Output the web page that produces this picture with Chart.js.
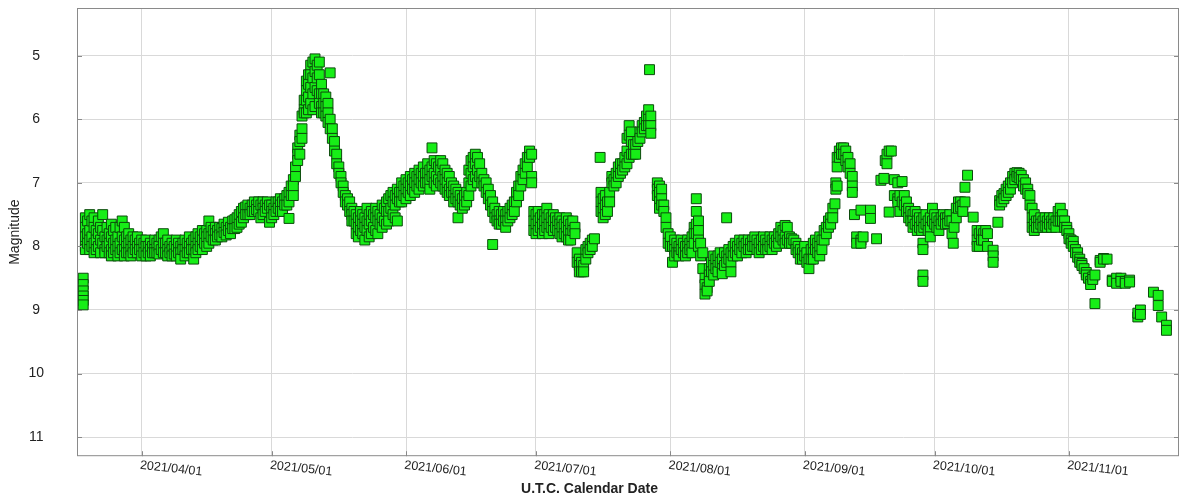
<!DOCTYPE html>
<html>
<head>
<meta charset="utf-8">
<script src="https://cdn.jsdelivr.net/npm/chart.js@4.4.1/dist/chart.umd.min.js"></script>
<style>
  html, body { margin: 0; padding: 0; background: #fff; }
  canvas { display: block; }
</style>
</head>
<body>
<canvas id="lightCurve" width="1200" height="498"></canvas>
<script>
// observation nights, as days since 2021-01-01 00:00 UTC
const nightDays = [
  76.5, 77, 77.5, 78, 78.5, 79, 79.5, 80,
  80.5, 81, 81.5, 82, 82.5, 83, 83.5, 84,
  84.5, 85, 85.5, 86, 86.5, 87, 87.5, 88,
  88.5, 89, 89.5, 90, 90.5, 91, 91.5, 92,
  92.5, 93, 93.5, 94, 94.5, 95, 95.5, 96,
  96.5, 97, 97.5, 98, 98.5, 99, 99.5, 100,
  100.5, 101, 101.5, 102, 102.5, 103, 103.5, 104,
  104.5, 105, 105.5, 106, 106.5, 107, 107.5, 108,
  108.5, 109, 109.5, 110, 110.5, 111, 111.5, 112,
  112.5, 113, 113.5, 114, 114.5, 115, 115.5, 116,
  116.5, 117, 117.5, 118, 118.5, 119, 119.5, 120,
  120.5, 121, 121.5, 122, 122.5, 123, 123.5, 124,
  124.5, 125, 125.5, 126, 126.5, 127, 127.5, 128,
  128.5, 129, 129.5, 130, 130.5, 131, 131.5, 132,
  132.5, 133, 133.5, 134, 134.5, 135, 135.5, 136,
  136.5, 137, 137.5, 138, 138.5, 139, 139.5, 140,
  140.5, 141, 141.5, 142, 142.5, 143, 143.5, 144,
  144.5, 145, 145.5, 146, 146.5, 147, 147.5, 148,
  148.5, 149, 149.5, 150, 150.5, 151, 151.5, 152,
  152.5, 153, 153.5, 154, 154.5, 155, 155.5, 156,
  156.5, 157, 157.5, 158, 158.5, 159, 159.5, 160,
  160.5, 161, 161.5, 162, 162.5, 163, 163.5, 164,
  164.5, 165, 165.5, 166, 166.5, 167, 167.5, 168,
  168.5, 169, 169.5, 170, 170.5, 171, 171.5, 172,
  172.5, 173, 173.5, 174, 174.5, 175, 175.5, 176,
  176.5, 177, 177.5, 178, 178.5, 179, 179.5, 180,
  180.5, 181, 181.5, 182, 182.5, 183, 183.5, 184,
  184.5, 185, 185.5, 186, 186.5, 187, 187.5, 188,
  188.5, 189, 189.5, 190, 190.5, 191, 191.5, 192,
  192.5, 193, 193.5, 194, 194.5, 195.8, 196, 196.5,
  197, 197.5, 198, 198.5, 199, 199.5, 200, 200.5,
  201, 201.5, 202, 202.5, 203, 203.5, 204, 204.5,
  205, 205.5, 206, 206.5, 207, 207.2, 207.5, 209,
  209.5, 210, 210.5, 211, 211.5, 212, 212.5, 213,
  213.5, 214, 214.5, 215, 215.5, 216, 216.5, 217,
  217.5, 218, 218.5, 219, 219.5, 220, 220.5, 221,
  221.5, 222, 222.5, 223, 223.5, 224, 224.5, 225,
  225.5, 226, 226.5, 227, 227.5, 228, 228.5, 229,
  229.5, 230, 230.5, 231, 231.5, 232, 232.5, 233,
  233.5, 234, 234.5, 235, 235.5, 236, 236.5, 237,
  237.5, 238, 238.5, 239, 239.5, 240, 240.5, 241,
  241.5, 242, 242.5, 243, 243.5, 244, 244.5, 245,
  245.5, 246, 246.5, 247, 247.5, 248, 248.5, 249,
  249.5, 250, 250.2, 250.5, 251, 251.5, 252, 252.5,
  253, 253.5, 254, 254.5, 255, 256, 256.5, 258.2,
  259.6, 260.6, 261.3, 261.6, 262, 262.5, 263, 263.7,
  264.5, 265, 265.5, 266, 266.5, 267, 267.5, 268,
  268.5, 269, 269.5, 270, 270.3, 270.5, 271, 271.5,
  272, 272.5, 273, 273.5, 274, 274.5, 275, 275.5,
  276, 276.5, 277, 277.3, 277.5, 278, 278.5, 279,
  279.5, 280, 280.6, 281.9, 282.8, 283.3, 283.8, 284.3,
  284.8, 285.2, 286.5, 287.6, 288, 288.5, 289, 289.5,
  290, 290.5, 291, 291.5, 292, 292.5, 293, 293.5,
  294, 294.5, 295, 295.5, 296, 296.5, 297, 297.5,
  298, 298.5, 299, 299.5, 300, 300.5, 301, 301.5,
  302, 302.5, 303, 303.5, 304, 304.5, 305, 305.5,
  306, 306.5, 307, 307.5, 308, 308.5, 309, 309.5,
  310, 311.2, 312, 312.8, 314, 315, 316, 317,
  318, 319.9, 320.5, 323.5, 324.6, 325.4, 326.5
];

// magnitudes reported on each of those nights
const nightMags = [
  [8.5,8.6,8.7,8.78,8.85,8.92], [7.55,7.7,7.85,8.0,8.05], [7.6,7.8,7.95], [7.5,7.75,7.9,8.05], [7.6,7.85,8.0], [7.55,7.7,7.95,8.1], [7.75,7.9,8.05], [7.6,7.8,8.0],
  [7.7,7.9,8.1], [7.5,7.75,7.95], [7.85,8.05,8.1], [7.7,7.9,8.0], [7.8,7.95,8.1], [7.65,7.85,8.05,8.15], [7.75,7.95,8.1], [7.7,7.9,8.05],
  [7.85,8.0,8.15], [7.7,7.95,8.1], [7.6,7.85,8.05], [7.7,7.9,8.05,8.15], [7.85,8.0,8.1], [7.8,7.95,8.1], [7.9,8.05,8.15], [7.85,8.0,8.1],
  [7.9,8.05], [7.85,8.0,8.1], [7.95,8.05], [7.9,8.05,8.15], [7.95,8.1], [7.9,8.0,8.15], [8.0,8.1], [7.95,8.05,8.15],
  [8.0,8.1], [7.9,8.05,8.1], [7.95,8.1], [7.9,8.0,8.12], [7.85,8.05], [7.8,7.95,8.1], [7.95,8.1], [7.9,8.05,8.15],
  [8.0,8.1], [7.95,8.05,8.15], [8.0,8.12], [7.9,8.05,8.15], [7.95,8.1], [8.0,8.1,8.2], [7.95,8.05], [7.9,8.05,8.15],
  [7.95,8.1], [7.85,8.0,8.1], [7.95,8.05], [7.9,8.05,8.2], [7.85,8.0,8.1], [7.8,7.95,8.05], [7.85,8.0], [7.75,7.9,8.05],
  [7.8,7.95], [7.75,7.85,8.0], [7.6,7.8,7.95], [7.7,7.85], [7.75,7.9], [7.7,7.8,7.9], [7.75,7.85], [7.7,7.82],
  [7.72,7.85], [7.65,7.78], [7.7,7.82], [7.62,7.75], [7.7,7.8], [7.6,7.72], [7.58,7.72], [7.55,7.7],
  [7.5,7.65], [7.45,7.62], [7.4,7.55], [7.38,7.5], [7.35,7.5], [7.4,7.5], [7.35,7.45], [7.3,7.45],
  [7.35,7.42], [7.3,7.45], [7.35,7.55], [7.3,7.4,7.5], [7.35,7.45], [7.3,7.4], [7.35,7.62], [7.35,7.45,7.55],
  [7.4,7.5], [7.3,7.45], [7.3,7.4], [7.25,7.35,7.45], [7.3,7.45], [7.25,7.35], [7.2,7.35], [7.15,7.3,7.56],
  [7.05,7.2], [6.95,7.05,7.2], [6.75,6.9], [6.45,6.55,6.65], [6.25,6.35,6.55], [5.95,6.15,6.3], [5.7,5.85,5.9], [5.4,5.55,5.7,5.9],
  [5.3,5.45,5.65,5.85], [5.15,5.3,5.5,5.75], [5.1,5.35,5.6,5.85], [5.05,5.25,5.5,5.8], [5.15,5.35,5.55], [5.1,5.3,5.6,5.75], [5.45,5.6,5.8,5.9], [5.6,5.75,5.9],
  [5.65,5.8,5.95], [5.75,5.9,6.05], [5.27,6.0,6.15], [6.15,6.3], [6.35,6.5], [6.55,6.7], [6.75,6.85], [6.9,7.0],
  [7.05,7.15], [7.2,7.3], [7.25,7.35], [7.3,7.45], [7.4,7.5,7.6], [7.45,7.6], [7.5,7.65,7.8], [7.55,7.7,7.85],
  [7.45,7.6,7.75], [7.5,7.65,7.8], [7.55,7.7,7.9], [7.4,7.6,7.75], [7.5,7.65,7.85], [7.45,7.6,7.8], [7.5,7.7], [7.4,7.55,7.75],
  [7.45,7.6,7.8], [7.5,7.65], [7.35,7.55,7.7], [7.4,7.6], [7.3,7.45,7.65], [7.25,7.45,7.6], [7.2,7.4], [7.15,7.3,7.5],
  [7.2,7.35,7.55], [7.1,7.25,7.6], [7.15,7.3], [7.0,7.15,7.3], [7.05,7.2], [6.95,7.1,7.25], [7.0,7.15], [6.9,7.05,7.2],
  [6.95,7.1], [6.85,7.0,7.15], [6.9,7.05], [6.8,6.95,7.1], [6.85,7.0], [6.75,6.9,7.05], [6.85,7.0], [6.7,6.85,7.0],
  [6.8,6.95,7.1], [6.45,6.75,6.9], [6.65,6.85,7.0], [6.7,6.9,7.05], [6.75,6.95], [6.65,6.8,7.0], [6.7,6.9,7.05], [6.8,6.95,7.1],
  [6.85,7.0,7.15], [6.9,7.1,7.2], [7.0,7.15], [7.05,7.2,7.3], [7.1,7.25], [7.15,7.3,7.55], [7.2,7.35], [7.25,7.4],
  [7.2,7.35], [7.15,7.3], [6.8,7.0,7.2], [6.65,6.85,7.05], [6.6,6.75,6.95], [6.55,6.7,6.9], [6.6,6.8,7.0], [6.7,6.9],
  [6.85,7.0], [6.95,7.05], [7.0,7.15], [7.1,7.25], [7.2,7.35], [7.3,7.45,7.97], [7.4,7.55], [7.5,7.6],
  [7.45,7.6,7.65], [7.5,7.65], [7.45,7.6], [7.5,7.6,7.7], [7.45,7.6], [7.4,7.55], [7.35,7.5], [7.3,7.45],
  [7.15,7.3], [7.05,7.2], [6.9,7.05], [6.8,6.95], [6.7,6.85], [6.6,6.75], [6.5,6.6], [6.55,6.9,7.0],
  [7.45,7.6,7.75], [7.5,7.65,7.8], [7.45,7.6,7.75], [7.55,7.7], [7.5,7.65,7.8], [7.5,7.6,7.75], [7.4,7.55,7.7], [7.5,7.65,7.8],
  [7.55,7.7], [7.5,7.6,7.75], [7.55,7.7], [7.6,7.75], [7.55,7.65,7.8], [7.6,7.7,7.85], [7.65,7.8], [7.55,7.7,7.85],
  [7.6,7.75,7.9], [7.65,7.8,7.9], [7.6,7.75], [7.7,7.8], [8.1,8.25], [8.2,8.3,8.4], [8.25,8.4], [8.3,8.4],
  [8.05,8.2], [8.0,8.1], [7.95,8.05], [7.9,8.0], [7.88], [6.6], [7.15,7.3,7.45], [7.25,7.4,7.55],
  [7.2,7.35,7.5], [7.3,7.45], [7.15,7.3], [6.9,7.0], [6.95,7.05], [6.85,7.0], [6.75,6.9], [6.7,6.85],
  [6.7,6.8], [6.6,6.75], [6.3,6.5,6.7], [6.1,6.25,6.6], [6.2,6.35,6.55], [6.4,6.55], [6.4,6.55], [6.35],
  [6.2,6.3], [6.1,6.2], [6.05,6.15], [5.95,6.1], [5.85,6.0,6.1], [5.22], [5.95,6.1,6.22], [7.0,7.1,7.2],
  [7.05,7.15,7.3,7.4], [7.1,7.25,7.35], [7.35,7.45], [7.55,7.7], [7.8,7.95], [7.85,8.0], [8.0,8.25], [7.9,8.05,8.15],
  [7.95,8.1], [8.0,8.1,8.15], [7.9,8.05], [7.95,8.1], [8.0,8.15], [7.9,8.0,8.1], [7.95,8.05], [7.85,8.0,8.1],
  [7.7,7.8,7.95], [7.25,7.45,7.65,7.8], [7.6,7.75,7.9,8.0], [7.95,8.15], [8.1,8.35], [8.5,8.6,8.75], [8.65,8.7], [8.35,8.45,8.55],
  [8.25,8.4], [8.15,8.3,8.45], [8.2,8.35], [8.15,8.3,8.4], [8.1,8.25], [8.2,8.35,8.43], [8.1,8.3], [7.55,8.15,8.25],
  [8.05,8.2], [8.1,8.25,8.4], [8.0,8.15], [7.95,8.1], [8.0,8.15], [7.9,8.05], [7.95,8.1], [7.9,8.0],
  [7.95,8.1], [7.9,8.05], [7.95,8.05], [7.9,8.0], [7.85,8.0], [7.9,8.05], [7.95,8.1], [7.9,8.05],
  [7.85,8.0], [7.9,8.05], [7.95,8.05], [7.85,8.0], [7.9,8.05], [7.85,7.95], [7.9,8.0], [7.8,7.95],
  [7.7,7.85], [7.75,7.9], [7.67,7.85,7.95], [7.7,7.9], [7.85,7.95], [7.88,7.95], [7.9], [7.95,8.05],
  [8.0,8.1], [8.05,8.2], [8.1,8.2], [8.0,8.15], [8.1,8.25], [8.2,8.35], [8.05,8.2], [7.95,8.1,8.2],
  [7.9,8.05], [7.95,8.1], [7.85,8.0,8.15], [7.9,8.05], [7.75,7.9], [7.7,7.8], [7.6,7.7], [7.55,7.65],
  [7.4,7.55], [7.33], [7.0,7.1], [6.6,6.75,7.05], [6.5,6.6], [6.45,6.55], [6.45,6.55], [6.5,6.65],
  [6.6,6.75], [6.7,6.85], [6.9,7.05,7.15], [7.5], [7.85,7.95], [7.43,7.9,7.95], [7.85], [7.43,7.56],
  [7.88], [6.96], [6.93], [6.65], [6.55,6.7], [6.5,7.46], [6.5], [6.95,7.2],
  [7.0,7.25,7.3], [7.2,7.45], [6.98,7.3], [7.2,7.35], [7.3,7.45], [7.4,7.55], [7.45,7.6], [7.5,7.6,7.7],
  [7.45,7.65], [7.5,7.6,7.75], [7.55,7.7], [7.6,7.75], [7.95,8.05,8.45,8.55], [7.55,7.7], [7.5,7.65], [7.6,7.75],
  [7.55,7.7,7.85], [7.4,7.6], [7.5,7.65], [7.55,7.7], [7.6,7.75], [7.55,7.65], [7.5,7.6], [7.55,7.65],
  [7.55,7.64], [7.5,7.6], [7.6,7.8], [7.95], [7.7], [7.4,7.55], [7.3,7.4], [7.3,7.38],
  [7.35,7.45], [7.07,7.3], [6.88], [7.54], [7.75,7.9,8.0], [7.8,8.0], [7.75,7.9], [7.8,7.9],
  [7.75], [7.8,8.0], [8.06,8.15,8.25], [7.62], [7.28,7.35], [7.2,7.3], [7.17,7.25], [7.1,7.2],
  [7.05,7.15], [7.0,7.1], [6.9,7.0], [6.85,6.95], [6.84,6.9], [6.85,6.92], [6.88,6.95], [6.95,7.05],
  [7.0,7.1], [7.1,7.17], [7.2,7.35], [7.4,7.55,7.7], [7.5,7.65,7.75], [7.6,7.7], [7.6,7.7], [7.55,7.65],
  [7.6,7.7], [7.55,7.68], [7.6,7.7], [7.55,7.65], [7.6,7.7], [7.55,7.65], [7.6,7.7], [7.45,7.6],
  [7.4,7.55,7.6], [7.5,7.6], [7.6,7.7], [7.7,7.75], [7.8,7.88], [7.9,7.95], [7.92,8.0], [8.05,8.1],
  [8.1,8.17], [8.2,8.25], [8.27,8.3], [8.35], [8.41,8.45], [8.5], [8.55,8.6], [8.48,8.52],
  [8.45,8.9], [8.22,8.25], [8.19,8.2], [8.2], [8.53,8.55], [8.5,8.58], [8.5,8.55], [8.55,8.58],
  [8.53,8.56], [9.11,9.05], [9.0,9.07], [8.72], [8.77,8.93], [9.11], [9.24,9.32]
];

// first of each month, same day count
const monthTicks = [90, 120, 151, 181, 212, 243, 273, 304];
const monthLabels = ['2021/04/01', '2021/05/01', '2021/06/01', '2021/07/01',
                     '2021/08/01', '2021/09/01', '2021/10/01', '2021/11/01'];
const magTicks = [5, 6, 7, 8, 9, 10, 11];

const dayRange = [75.07, 329.4];
const magRange = [4.25, 11.3];

const points = [];
nightDays.forEach((d, i) => {
    nightMags[i].forEach(m => points.push({ x: d, y: m }));
});

const FONT = '"Liberation Sans", Arial, sans-serif';

// frame, small inner tick marks and the slanted date labels
const framePlugin = {
    id: 'frame',
    afterDraw(chart) {
        const { ctx, chartArea: a, scales } = chart;
        ctx.save();
        ctx.strokeStyle = '#8a8a8a';
        ctx.lineWidth = 1;
        ctx.strokeRect(a.left + 0.5, a.top + 0.5, a.width - 1, a.height - 1);

        ctx.beginPath();
        magTicks.forEach(v => {
            const y = Math.round(scales.y.getPixelForValue(v)) + 0.5;
            ctx.moveTo(a.left, y); ctx.lineTo(a.left + 5, y);
            ctx.moveTo(a.right - 5, y); ctx.lineTo(a.right, y);
        });
        monthTicks.forEach(v => {
            const x = Math.round(scales.x.getPixelForValue(v)) + 0.5;
            ctx.moveTo(x, a.bottom); ctx.lineTo(x, a.bottom - 5);
        });
        ctx.stroke();

        ctx.font = '12.5px ' + FONT;
        ctx.fillStyle = '#222';
        ctx.textAlign = 'left';
        ctx.textBaseline = 'top';
        monthTicks.forEach((v, i) => {
            const x = scales.x.getPixelForValue(v);
            ctx.save();
            ctx.translate(x - 1, a.bottom + 3);
            ctx.rotate(6 * Math.PI / 180);
            ctx.fillText(monthLabels[i], 0, 0);
            ctx.restore();
        });
        ctx.restore();
    }
};

new Chart(document.getElementById('lightCurve'), {
    type: 'scatter',
    data: {
        datasets: [{
            label: 'Vis.',
            data: points,
            pointStyle: 'rect',
            pointRadius: 7,
            pointHoverRadius: 7,
            backgroundColor: '#17ee17',
            borderColor: '#0c4a0c',
            borderWidth: 1
        }]
    },
    options: {
        responsive: false,
        animation: false,
        layout: { padding: { top: 7, right: 21, left: 0, bottom: 0 } },
        plugins: {
            legend: { display: false },
            tooltip: { enabled: false },
            title: {
                display: true,
                position: 'bottom',
                text: 'U.T.C. Calendar Date',
                color: '#222',
                font: { family: FONT, size: 14, weight: 'bold' },
                padding: { top: 8, bottom: 0 }
            }
        },
        scales: {
            x: {
                type: 'linear',
                min: dayRange[0],
                max: dayRange[1],
                afterBuildTicks: s => { s.ticks = monthTicks.map(v => ({ value: v })); },
                afterFit: s => { s.height = 17; },
                ticks: { display: false },
                grid: { color: '#d9d9d9', drawTicks: false },
                border: { display: false }
            },
            y: {
                type: 'linear',
                reverse: true,
                min: magRange[0],
                max: magRange[1],
                afterBuildTicks: s => { s.ticks = magTicks.map(v => ({ value: v })); },
                afterFit: s => {
                    s.width = 77;
                    s.paddingTop = 0;
                    s.paddingBottom = 0;
                },
                ticks: {
                    color: '#222',
                    font: { family: FONT, size: 14 },
                    crossAlign: 'center',
                    padding: 3
                },
                grid: { color: '#d9d9d9', drawTicks: true, tickLength: 30, tickColor: 'rgba(0,0,0,0)' },
                border: { display: false },
                title: {
                    display: true,
                    text: 'Magnitude',
                    color: '#222',
                    font: { family: FONT, size: 14 },
                    padding: { top: 7, bottom: 0 }
                }
            }
        }
    },
    plugins: [framePlugin]
});
</script>
</body>
</html>
